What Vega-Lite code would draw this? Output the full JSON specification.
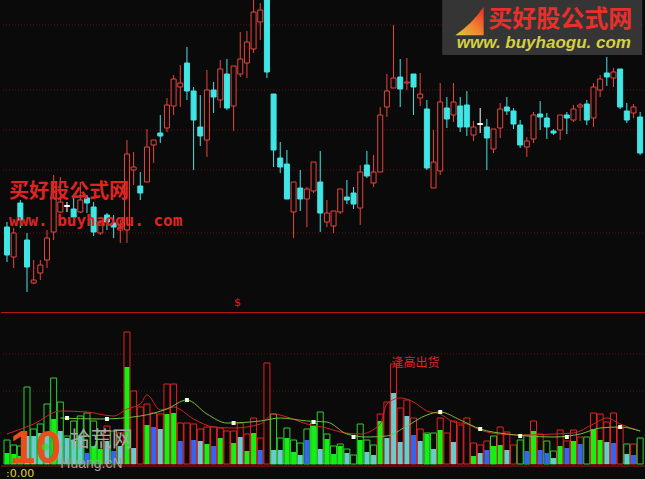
{
  "$schema": "https://vega.github.io/schema/vega-lite/v6.json",
  "background": "#0a0a0a",
  "padding": 0,
  "spacing": 0,
  "config": {"view": {"stroke": null}},
  "resolve": {"scale": {"x": "independent", "y": "independent", "fill": "independent", "stroke": "independent"}},
  "datasets": {
    "k": [
      {"i":0,"o":9.3,"c":6.5,"h":9.8,"l":5.8,"t":"d"},
      {"i":1,"o":6.3,"c":8.7,"h":9.2,"l":5.2,"t":"u"},
      {"i":2,"o":11.7,"c":10.0,"h":12.0,"l":9.2,"t":"d"},
      {"i":3,"o":8.0,"c":5.3,"h":8.7,"l":2.8,"t":"d"},
      {"i":4,"o":3.7,"c":4.0,"h":6.0,"l":3.6,"t":"u"},
      {"i":5,"o":4.7,"c":5.5,"h":6.0,"l":4.0,"t":"u"},
      {"i":6,"o":6.0,"c":8.2,"h":9.0,"l":5.2,"t":"u"},
      {"i":7,"o":8.8,"c":12.2,"h":14.5,"l":8.0,"t":"u"},
      {"i":8,"o":10.8,"c":11.8,"h":14.3,"l":10.7,"t":"u"},
      {"i":9,"o":11.45,"c":11.35,"h":11.8,"l":10.8,"t":"f"},
      {"i":10,"o":11.1,"c":10.3,"h":12.3,"l":10.0,"t":"d"},
      {"i":11,"o":10.8,"c":12.0,"h":13.8,"l":10.7,"t":"u"},
      {"i":12,"o":12.2,"c":11.7,"h":12.5,"l":10.7,"t":"d"},
      {"i":13,"o":11.3,"c":8.8,"h":11.8,"l":8.4,"t":"d"},
      {"i":14,"o":8.7,"c":9.7,"h":10.0,"l":8.5,"t":"u"},
      {"i":15,"o":10.5,"c":9.8,"h":10.7,"l":9.0,"t":"d"},
      {"i":16,"o":9.7,"c":9.3,"h":10.5,"l":8.2,"t":"d"},
      {"i":17,"o":9.0,"c":9.3,"h":10.0,"l":7.7,"t":"u"},
      {"i":18,"o":9.0,"c":16.6,"h":18.0,"l":7.7,"t":"u"},
      {"i":19,"o":15.0,"c":15.3,"h":16.8,"l":13.5,"t":"u"},
      {"i":20,"o":13.4,"c":12.7,"h":14.8,"l":12.0,"t":"d"},
      {"i":21,"o":13.8,"c":17.3,"h":19.1,"l":13.8,"t":"u"},
      {"i":22,"o":17.5,"c":18.0,"h":18.0,"l":15.7,"t":"u"},
      {"i":23,"o":18.7,"c":18.4,"h":20.5,"l":17.7,"t":"d"},
      {"i":24,"o":19.2,"c":21.5,"h":22.2,"l":18.8,"t":"u"},
      {"i":25,"o":21.4,"c":24.1,"h":24.5,"l":20.5,"t":"u"},
      {"i":26,"o":23.3,"c":23.7,"h":25.5,"l":21.3,"t":"u"},
      {"i":27,"o":25.7,"c":22.9,"h":27.3,"l":22.0,"t":"d"},
      {"i":28,"o":22.9,"c":20.0,"h":23.3,"l":15.0,"t":"d"},
      {"i":29,"o":19.3,"c":18.4,"h":22.5,"l":17.4,"t":"d"},
      {"i":30,"o":18.0,"c":23.0,"h":25.0,"l":16.3,"t":"u"},
      {"i":31,"o":23.0,"c":22.3,"h":23.8,"l":20.7,"t":"d"},
      {"i":32,"o":22.0,"c":25.1,"h":26.0,"l":21.2,"t":"u"},
      {"i":33,"o":24.6,"c":21.2,"h":26.1,"l":21.0,"t":"d"},
      {"i":34,"o":21.4,"c":25.4,"h":25.4,"l":18.9,"t":"u"},
      {"i":35,"o":24.6,"c":26.1,"h":28.8,"l":24.3,"t":"u"},
      {"i":36,"o":25.7,"c":27.8,"h":28.9,"l":24.2,"t":"u"},
      {"i":37,"o":27.1,"c":30.8,"h":32.5,"l":26.7,"t":"u"},
      {"i":38,"o":29.8,"c":31.0,"h":31.7,"l":28.0,"t":"u"},
      {"i":39,"o":33.0,"c":24.8,"h":33.0,"l":24.2,"t":"d"},
      {"i":40,"o":22.6,"c":17.0,"h":22.6,"l":15.3,"t":"d"},
      {"i":41,"o":16.2,"c":15.3,"h":17.8,"l":14.7,"t":"d"},
      {"i":42,"o":15.6,"c":12.1,"h":17.0,"l":12.1,"t":"d"},
      {"i":43,"o":10.8,"c":13.8,"h":13.8,"l":8.2,"t":"u"},
      {"i":44,"o":13.2,"c":12.1,"h":15.0,"l":10.9,"t":"d"},
      {"i":45,"o":12.1,"c":13.1,"h":13.3,"l":9.3,"t":"u"},
      {"i":46,"o":12.9,"c":15.8,"h":15.8,"l":12.7,"t":"u"},
      {"i":47,"o":13.8,"c":10.7,"h":16.9,"l":8.8,"t":"d"},
      {"i":48,"o":9.8,"c":10.7,"h":12.0,"l":9.3,"t":"u"},
      {"i":49,"o":9.4,"c":10.9,"h":10.9,"l":8.7,"t":"u"},
      {"i":50,"o":10.8,"c":13.1,"h":13.1,"l":10.6,"t":"u"},
      {"i":51,"o":12.3,"c":12.0,"h":14.0,"l":11.6,"t":"d"},
      {"i":52,"o":12.7,"c":11.6,"h":13.3,"l":11.1,"t":"d"},
      {"i":53,"o":11.2,"c":14.8,"h":15.5,"l":9.5,"t":"u"},
      {"i":54,"o":15.5,"c":14.4,"h":16.9,"l":14.2,"t":"d"},
      {"i":55,"o":13.7,"c":14.8,"h":16.5,"l":13.3,"t":"u"},
      {"i":56,"o":14.8,"c":20.5,"h":21.3,"l":14.8,"t":"u"},
      {"i":57,"o":21.3,"c":22.9,"h":24.6,"l":20.3,"t":"u"},
      {"i":58,"o":23.2,"c":24.2,"h":29.5,"l":23.2,"t":"u"},
      {"i":59,"o":24.3,"c":23.1,"h":26.1,"l":21.3,"t":"d"},
      {"i":60,"o":23.7,"c":23.8,"h":26.2,"l":23.0,"t":"u"},
      {"i":61,"o":24.6,"c":23.3,"h":24.6,"l":20.5,"t":"d"},
      {"i":62,"o":22.2,"c":22.6,"h":24.7,"l":21.4,"t":"u"},
      {"i":63,"o":21.1,"c":15.2,"h":22.0,"l":15.0,"t":"d"},
      {"i":64,"o":13.2,"c":15.8,"h":19.0,"l":13.2,"t":"u"},
      {"i":65,"o":14.9,"c":21.8,"h":23.7,"l":14.5,"t":"u"},
      {"i":66,"o":21.2,"c":20.1,"h":22.3,"l":19.2,"t":"d"},
      {"i":67,"o":20.5,"c":21.8,"h":23.7,"l":19.8,"t":"u"},
      {"i":68,"o":21.4,"c":19.3,"h":22.3,"l":18.8,"t":"d"},
      {"i":69,"o":21.5,"c":19.3,"h":22.9,"l":18.4,"t":"d"},
      {"i":70,"o":18.5,"c":19.3,"h":19.9,"l":17.9,"t":"u"},
      {"i":71,"o":19.65,"c":19.55,"h":21.2,"l":18.7,"t":"f"},
      {"i":72,"o":19.3,"c":18.2,"h":20.1,"l":15.0,"t":"d"},
      {"i":73,"o":17.1,"c":19.1,"h":19.1,"l":16.7,"t":"u"},
      {"i":74,"o":19.2,"c":21.1,"h":21.7,"l":18.2,"t":"u"},
      {"i":75,"o":21.3,"c":20.9,"h":22.3,"l":20.5,"t":"d"},
      {"i":76,"o":20.9,"c":19.6,"h":21.2,"l":19.1,"t":"d"},
      {"i":77,"o":19.5,"c":17.5,"h":20.0,"l":17.2,"t":"d"},
      {"i":78,"o":17.3,"c":17.9,"h":18.3,"l":16.3,"t":"u"},
      {"i":79,"o":18.1,"c":20.5,"h":20.8,"l":17.7,"t":"u"},
      {"i":80,"o":20.6,"c":20.3,"h":21.9,"l":19.0,"t":"d"},
      {"i":81,"o":20.2,"c":19.3,"h":20.7,"l":18.1,"t":"d"},
      {"i":82,"o":18.9,"c":18.7,"h":19.1,"l":18.5,"t":"d"},
      {"i":83,"o":19.0,"c":20.5,"h":20.5,"l":18.0,"t":"u"},
      {"i":84,"o":20.5,"c":20.2,"h":20.8,"l":18.6,"t":"d"},
      {"i":85,"o":20.0,"c":21.1,"h":21.5,"l":19.8,"t":"u"},
      {"i":86,"o":21.3,"c":21.5,"h":21.7,"l":19.9,"t":"u"},
      {"i":87,"o":21.6,"c":20.0,"h":22.0,"l":19.5,"t":"d"},
      {"i":88,"o":20.2,"c":23.3,"h":23.7,"l":19.3,"t":"u"},
      {"i":89,"o":23.0,"c":24.1,"h":24.5,"l":22.3,"t":"u"},
      {"i":90,"o":24.7,"c":24.3,"h":26.3,"l":23.4,"t":"d"},
      {"i":91,"o":24.2,"c":24.8,"h":25.2,"l":23.3,"t":"u"},
      {"i":92,"o":25.1,"c":21.3,"h":25.1,"l":21.1,"t":"d"},
      {"i":93,"o":20.9,"c":20.0,"h":21.7,"l":19.7,"t":"d"},
      {"i":94,"o":20.7,"c":21.3,"h":21.6,"l":20.2,"t":"u"},
      {"i":95,"o":20.3,"c":16.7,"h":20.8,"l":16.5,"t":"d"}
    ],
    "v": [
      {"i":0,"v":24,"vc":"g","f":11,"fc":"g"},
      {"i":1,"v":19,"vc":"g","f":10,"fc":"g"},
      {"i":2,"v":18,"vc":"g","f":8,"fc":"g"},
      {"i":3,"v":77,"vc":"g","f":28,"fc":"c"},
      {"i":4,"v":35,"vc":"g","f":28,"fc":"c"},
      {"i":5,"v":40,"vc":"g","f":31,"fc":"c"},
      {"i":6,"v":60,"vc":"g","f":31,"fc":"c"},
      {"i":7,"v":86,"vc":"g","f":45,"fc":"g"},
      {"i":8,"v":62,"vc":"g","f":33,"fc":"c"},
      {"i":9,"v":28,"vc":"g","f":26,"fc":"c"},
      {"i":10,"v":43,"vc":"g","f":23,"fc":"c"},
      {"i":11,"v":48,"vc":"g","f":28,"fc":"c"},
      {"i":12,"v":51,"vc":"g","f":11,"fc":"b"},
      {"i":13,"v":43,"vc":"g","f":18,"fc":"g"},
      {"i":14,"v":33,"vc":"g","f":15,"fc":"g"},
      {"i":15,"v":38,"vc":"r","f":23,"fc":"c"},
      {"i":16,"v":33,"vc":"g","f":13,"fc":"b"},
      {"i":17,"v":31,"vc":"r","f":18,"fc":"c"},
      {"i":18,"v":132,"vc":"r","f":97,"fc":"g"},
      {"i":19,"v":73,"vc":"r","f":16,"fc":"c"},
      {"i":20,"v":57,"vc":"r","f":0,"fc":"n"},
      {"i":21,"v":60,"vc":"r","f":39,"fc":"g"},
      {"i":22,"v":51,"vc":"r","f":37,"fc":"b"},
      {"i":23,"v":50,"vc":"r","f":35,"fc":"c"},
      {"i":24,"v":80,"vc":"r","f":50,"fc":"g"},
      {"i":25,"v":80,"vc":"r","f":51,"fc":"g"},
      {"i":26,"v":41,"vc":"r","f":23,"fc":"b"},
      {"i":27,"v":41,"vc":"r","f":0,"fc":"n"},
      {"i":28,"v":40,"vc":"r","f":24,"fc":"b"},
      {"i":29,"v":35,"vc":"r","f":23,"fc":"c"},
      {"i":30,"v":37,"vc":"r","f":20,"fc":"g"},
      {"i":31,"v":37,"vc":"r","f":18,"fc":"b"},
      {"i":32,"v":36,"vc":"r","f":26,"fc":"g"},
      {"i":33,"v":33,"vc":"r","f":0,"fc":"n"},
      {"i":34,"v":33,"vc":"r","f":21,"fc":"g"},
      {"i":35,"v":41,"vc":"r","f":27,"fc":"c"},
      {"i":36,"v":30,"vc":"r","f":13,"fc":"g"},
      {"i":37,"v":46,"vc":"r","f":31,"fc":"g"},
      {"i":38,"v":26,"vc":"r","f":14,"fc":"b"},
      {"i":39,"v":101,"vc":"r","f":0,"fc":"n"},
      {"i":40,"v":50,"vc":"g","f":14,"fc":"c"},
      {"i":41,"v":26,"vc":"g","f":14,"fc":"c"},
      {"i":42,"v":36,"vc":"g","f":26,"fc":"g"},
      {"i":43,"v":24,"vc":"g","f":12,"fc":"g"},
      {"i":44,"v":21,"vc":"g","f":9,"fc":"c"},
      {"i":45,"v":35,"vc":"g","f":24,"fc":"b"},
      {"i":46,"v":41,"vc":"g","f":38,"fc":"g"},
      {"i":47,"v":52,"vc":"g","f":15,"fc":"c"},
      {"i":48,"v":30,"vc":"g","f":25,"fc":"g"},
      {"i":49,"v":18,"vc":"g","f":10,"fc":"g"},
      {"i":50,"v":20,"vc":"g","f":18,"fc":"g"},
      {"i":51,"v":15,"vc":"g","f":11,"fc":"c"},
      {"i":52,"v":9,"vc":"g","f":0,"fc":"n"},
      {"i":53,"v":40,"vc":"g","f":24,"fc":"g"},
      {"i":54,"v":24,"vc":"g","f":12,"fc":"c"},
      {"i":55,"v":19,"vc":"g","f":9,"fc":"c"},
      {"i":56,"v":50,"vc":"r","f":43,"fc":"g"},
      {"i":57,"v":62,"vc":"r","f":26,"fc":"c"},
      {"i":58,"v":100,"vc":"r","f":71,"fc":"c"},
      {"i":59,"v":56,"vc":"r","f":22,"fc":"c"},
      {"i":60,"v":64,"vc":"r","f":48,"fc":"c"},
      {"i":61,"v":46,"vc":"r","f":29,"fc":"b"},
      {"i":62,"v":35,"vc":"r","f":23,"fc":"c"},
      {"i":63,"v":31,"vc":"g","f":30,"fc":"g"},
      {"i":64,"v":31,"vc":"g","f":15,"fc":"c"},
      {"i":65,"v":46,"vc":"r","f":34,"fc":"g"},
      {"i":66,"v":31,"vc":"r","f":0,"fc":"n"},
      {"i":67,"v":43,"vc":"r","f":22,"fc":"c"},
      {"i":68,"v":39,"vc":"r","f":0,"fc":"n"},
      {"i":69,"v":46,"vc":"r","f":0,"fc":"n"},
      {"i":70,"v":21,"vc":"r","f":8,"fc":"g"},
      {"i":71,"v":19,"vc":"r","f":11,"fc":"c"},
      {"i":72,"v":23,"vc":"r","f":14,"fc":"b"},
      {"i":73,"v":28,"vc":"g","f":18,"fc":"g"},
      {"i":74,"v":37,"vc":"r","f":19,"fc":"g"},
      {"i":75,"v":32,"vc":"r","f":14,"fc":"c"},
      {"i":76,"v":19,"vc":"r","f":0,"fc":"n"},
      {"i":77,"v":24,"vc":"g","f":0,"fc":"n"},
      {"i":78,"v":29,"vc":"g","f":13,"fc":"b"},
      {"i":79,"v":43,"vc":"r","f":33,"fc":"g"},
      {"i":80,"v":30,"vc":"r","f":14,"fc":"b"},
      {"i":81,"v":23,"vc":"g","f":11,"fc":"b"},
      {"i":82,"v":13,"vc":"g","f":6,"fc":"c"},
      {"i":83,"v":34,"vc":"r","f":18,"fc":"g"},
      {"i":84,"v":23,"vc":"r","f":16,"fc":"b"},
      {"i":85,"v":34,"vc":"r","f":23,"fc":"g"},
      {"i":86,"v":27,"vc":"r","f":20,"fc":"b"},
      {"i":87,"v":27,"vc":"g","f":0,"fc":"n"},
      {"i":88,"v":51,"vc":"r","f":35,"fc":"g"},
      {"i":89,"v":50,"vc":"r","f":24,"fc":"g"},
      {"i":90,"v":42,"vc":"r","f":22,"fc":"c"},
      {"i":91,"v":51,"vc":"r","f":21,"fc":"b"},
      {"i":92,"v":36,"vc":"r","f":0,"fc":"n"},
      {"i":93,"v":20,"vc":"g","f":10,"fc":"c"},
      {"i":94,"v":20,"vc":"r","f":9,"fc":"b"},
      {"i":95,"v":26,"vc":"g","f":0,"fc":"n"}
    ],
    "rl": [
      {"i":0,"m":30},{"i":4,"m":40},{"i":8,"m":53},{"i":12,"m":52},{"i":16,"m":48},{"i":18,"m":55},{"i":20,"m":60},{"i":21,"m":69},{"i":23,"m":54},{"i":25,"m":57},{"i":28,"m":45},{"i":31,"m":37},{"i":34,"m":36},{"i":38,"m":40},{"i":40,"m":50},{"i":42,"m":47},{"i":45,"m":40},{"i":48,"m":36},{"i":50,"m":32},{"i":53,"m":30},{"i":56,"m":40},{"i":57,"m":60},{"i":59,"m":66},{"i":61,"m":62},{"i":63,"m":53},{"i":65,"m":50},{"i":67,"m":42},{"i":69,"m":40},{"i":71,"m":34},{"i":74,"m":30},{"i":78,"m":29},{"i":82,"m":30},{"i":85,"m":31},{"i":88,"m":40},{"i":90,"m":46},{"i":92,"m":40},{"i":95,"m":33}
    ],
    "gl": [
      {"i":8,"m":46},{"i":14,"m":45},{"i":20,"m":48},{"i":24,"m":55},{"i":27,"m":64},{"i":30,"m":50},{"i":33,"m":41},{"i":38,"m":43},{"i":41,"m":46},{"i":45,"m":43},{"i":48,"m":42},{"i":51,"m":30},{"i":54,"m":27},{"i":57,"m":28},{"i":60,"m":38},{"i":63,"m":49},{"i":65,"m":52},{"i":68,"m":44},{"i":71,"m":35},{"i":75,"m":30},{"i":78,"m":28},{"i":82,"m":27},{"i":86,"m":30},{"i":89,"m":36},{"i":92,"m":37},{"i":95,"m":33}
    ],
    "mk": [
      {"i":9,"m":46},{"i":15,"m":45},{"i":27,"m":64},{"i":34,"m":41},{"i":46,"m":42},{"i":52,"m":27},{"i":65,"m":52},{"i":71,"m":35},{"i":77,"m":28},{"i":84,"m":27},{"i":92,"m":37}
    ],
    "pg": [{"p":29.5},{"p":23.0},{"p":19.0},{"p":15.0},{"p":8.7}],
    "vg": [{"m":110},{"m":73}]
  },
  "vconcat": [
    {
      "width": 645,
      "height": 311,
      "encoding": {
        "x": {"type": "quantitative", "scale": {"domain": [-0.15, 95.13], "nice": false, "zero": false}, "axis": null}
      },
      "layer": [
        {
          "data": {"name": "pg"},
          "mark": {"type": "rule", "color": "#5c1212", "strokeDash": [1, 2], "strokeWidth": 1},
          "encoding": {"y": {"field": "p", "type": "quantitative", "scale": {"domain": [0.9, 32.0], "nice": false, "zero": false}, "axis": null}}
        },
        {
          "data": {"name": "k"},
          "mark": {"type": "rule", "strokeWidth": 1, "clip": true},
          "encoding": {
            "x": {"field": "i", "type": "quantitative"},
            "y": {"field": "l", "type": "quantitative"},
            "y2": {"field": "h"},
            "stroke": {"field": "t", "type": "nominal", "scale": {"domain": ["u", "d", "f"], "range": ["#e8453c", "#40e6e6", "#ffffff"]}, "legend": null}
          }
        },
        {
          "data": {"name": "k"},
          "mark": {"type": "bar", "size": 5, "strokeWidth": 1, "clip": true},
          "encoding": {
            "x": {"field": "i", "type": "quantitative"},
            "y": {"field": "o", "type": "quantitative"},
            "y2": {"field": "c"},
            "fill": {"field": "t", "type": "nominal", "scale": {"domain": ["u", "d", "f"], "range": ["#0a0a0a", "#40e6e6", "#ffffff"]}, "legend": null},
            "stroke": {"field": "t", "type": "nominal", "legend": null}
          }
        },
        {
          "data": {"values": [{}]},
          "mark": {"type": "text", "text": "买好股公式网", "font": "Noto Sans CJK SC", "fontSize": 20, "fontWeight": "bold", "color": "#e02424", "align": "left", "baseline": "middle"},
          "encoding": {"x": {"datum": 0.3}, "y": {"datum": 12.8}}
        },
        {
          "data": {"values": [{}]},
          "mark": {"type": "text", "text": "www. buyhaogu. com", "font": "DejaVu Sans Mono", "fontSize": 16, "fontWeight": "bold", "color": "#e02424", "align": "left", "baseline": "middle"},
          "encoding": {"x": {"datum": 0.3}, "y": {"datum": 9.9}}
        },
        {
          "data": {"values": [{}]},
          "mark": {"type": "text", "text": "$", "font": "DejaVu Sans", "fontSize": 11, "color": "#e02424", "align": "center", "baseline": "middle"},
          "encoding": {"x": {"datum": 34.6}, "y": {"datum": 1.7}}
        },
        {
          "data": {"values": [{}]},
          "mark": {"type": "rect", "color": "#3a3a3a", "opacity": 0.92},
          "encoding": {"x": {"datum": 65.3}, "x2": {"datum": 95.3}, "y": {"datum": 32.0}, "y2": {"datum": 26.5}}
        },
        {
          "data": {"values": [{}]},
          "mark": {"type": "text", "text": "买好股公式网", "font": "Noto Sans CJK SC", "fontSize": 24, "fontWeight": "bold", "color": "#e8302a", "align": "left", "baseline": "middle"},
          "encoding": {"x": {"datum": 72.2}, "y": {"datum": 30.0}}
        },
        {
          "data": {"values": [{}]},
          "mark": {"type": "text", "text": "www. buyhaogu. com", "font": "Liberation Sans", "fontSize": 17, "fontWeight": "bold", "fontStyle": "italic", "color": "#d4d040", "align": "left", "baseline": "middle"},
          "encoding": {"x": {"datum": 67.5}, "y": {"datum": 27.7}}
        },
        {
          "data": {"values": [{}]},
          "mark": {"type": "point", "shape": "M -1 1 L 1 1 L 1 -1 Q 0.2 0.2 -1 1 Z", "filled": true, "size": 800, "opacity": 1,
                   "fill": {"gradient": "linear", "x1": 0, "y1": 1, "x2": 1, "y2": 0, "stops": [{"offset": 0, "color": "#d8d040"}, {"offset": 0.5, "color": "#f08030"}, {"offset": 1, "color": "#e82828"}]}},
          "encoding": {"x": {"datum": 69.4}, "y": {"datum": 29.9}}
        }
      ]
    },
    {
      "width": 645,
      "height": 168,
      "encoding": {
        "x": {"type": "quantitative", "scale": {"domain": [-0.15, 95.13], "nice": false, "zero": false}, "axis": null}
      },
      "layer": [
        {
          "data": {"name": "vg"},
          "mark": {"type": "rule", "color": "#5c1212", "strokeDash": [1, 2], "strokeWidth": 1},
          "encoding": {"y": {"field": "m", "type": "quantitative", "scale": {"domain": [-16, 152], "nice": false, "zero": false}, "axis": null}}
        },
        {
          "data": {"values": [{}]},
          "mark": {"type": "rule", "color": "#b01818", "strokeWidth": 1},
          "encoding": {"y": {"datum": 151.5}}
        },
        {
          "data": {"values": [{}]},
          "mark": {"type": "rule", "color": "#a01414", "strokeWidth": 1},
          "encoding": {"y": {"datum": -2}}
        },
        {
          "data": {"name": "v"},
          "mark": {"type": "bar", "size": 6, "strokeWidth": 1, "fill": "#0a0a0a"},
          "encoding": {
            "x": {"field": "i", "type": "quantitative"},
            "y": {"field": "v", "type": "quantitative"},
            "y2": {"datum": 0},
            "stroke": {"field": "vc", "type": "nominal", "scale": {"domain": ["r", "g"], "range": ["#e82020", "#30d030"]}, "legend": null}
          }
        },
        {
          "data": {"name": "v"},
          "transform": [{"filter": "datum.f > 0"}],
          "mark": {"type": "bar", "size": 5},
          "encoding": {
            "x": {"field": "i", "type": "quantitative"},
            "y": {"field": "f", "type": "quantitative"},
            "y2": {"datum": 0},
            "fill": {"field": "fc", "type": "nominal", "scale": {"domain": ["g", "c", "b"], "range": ["#14f014", "#66cccc", "#3366ee"]}, "legend": null}
          }
        },
        {
          "data": {"name": "rl"},
          "mark": {"type": "line", "color": "#d82020", "strokeWidth": 1, "interpolate": "monotone"},
          "encoding": {"x": {"field": "i", "type": "quantitative"}, "y": {"field": "m", "type": "quantitative"}}
        },
        {
          "data": {"name": "gl"},
          "mark": {"type": "line", "color": "#70c040", "strokeWidth": 1, "interpolate": "monotone"},
          "encoding": {"x": {"field": "i", "type": "quantitative"}, "y": {"field": "m", "type": "quantitative"}}
        },
        {
          "data": {"name": "mk"},
          "mark": {"type": "square", "size": 16, "color": "#e8ffe0", "filled": true, "opacity": 1},
          "encoding": {"x": {"field": "i", "type": "quantitative"}, "y": {"field": "m", "type": "quantitative"}}
        },
        {
          "data": {"values": [{}]},
          "mark": {"type": "text", "text": "逢高出货", "font": "Noto Sans CJK SC", "fontSize": 12, "color": "#e02424", "align": "left", "baseline": "middle"},
          "encoding": {"x": {"datum": 57.7}, "y": {"datum": 101}}
        },
        {
          "data": {"values": [{}]},
          "mark": {"type": "text", "text": "10", "font": "Liberation Sans", "fontSize": 46, "fontWeight": "bold", "color": "#e8501a", "align": "center", "baseline": "alphabetic"},
          "encoding": {"x": {"datum": 4.3}, "y": {"datum": 1}}
        },
        {
          "data": {"values": [{}]},
          "mark": {"type": "point", "shape": "circle", "filled": true, "size": 50, "color": "#30e030"},
          "encoding": {"x": {"datum": 5.75}, "y": {"datum": 17}}
        },
        {
          "data": {"values": [{}]},
          "mark": {"type": "text", "text": "拾荒网", "font": "Noto Sans CJK SC", "fontSize": 21, "color": "#a8a8a8", "align": "left", "baseline": "middle"},
          "encoding": {"x": {"datum": 9.4}, "y": {"datum": 24}}
        },
        {
          "data": {"values": [{}]},
          "mark": {"type": "text", "text": "Huang.cN", "font": "Liberation Sans", "fontSize": 14, "color": "#a0a0a0", "align": "left", "baseline": "middle"},
          "encoding": {"x": {"datum": 8.0}, "y": {"datum": 0}}
        },
        {
          "data": {"values": [{}]},
          "mark": {"type": "text", "text": ":0.00", "font": "DejaVu Sans", "fontSize": 11, "color": "#e0d830", "align": "left", "baseline": "middle"},
          "encoding": {"x": {"datum": -0.15}, "y": {"datum": -10}}
        }
      ]
    }
  ]
}
